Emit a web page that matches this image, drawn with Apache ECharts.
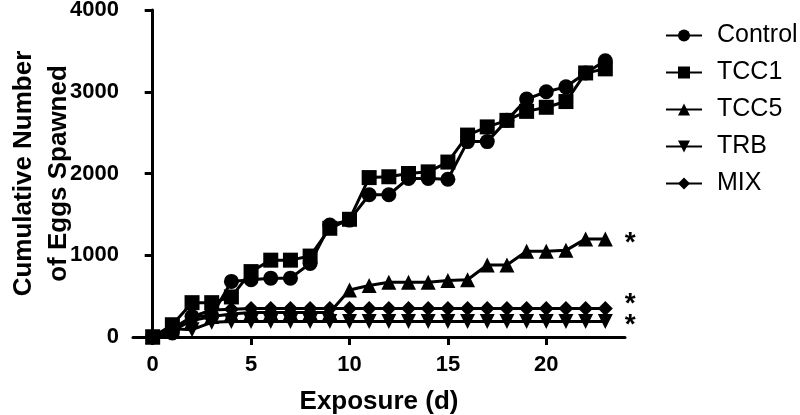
<!DOCTYPE html>
<html lang="en">
<head>
    <meta charset="UTF-8">
    <title>Eggs Spawned</title>
</head>
<body style="margin:0">
<script src="https://cdn.jsdelivr.net/npm/echarts@6/dist/echarts.min.js"></script>
<div id="main" style="width:800px;height:415px;"></div>

<script type="text/javascript">
    var days = [0, 1, 2, 3, 4, 5, 6, 7, 8, 9, 10, 11, 12, 13, 14, 15, 16, 17, 18, 19, 20, 21, 22, 23];
    var control = [0, 50, 250, 260, 680, 700, 720, 720, 900, 1370, 1430, 1740, 1740, 1940, 1940, 1930, 2390, 2390, 2650, 2910, 3000, 3060, 3230, 3380];
    var tcc1 = [0, 150, 420, 420, 490, 800, 940, 940, 990, 1330, 1440, 1950, 1960, 2000, 2020, 2140, 2470, 2570, 2650, 2760, 2810, 2880, 3230, 3280];
    var tcc5 = [0, 80, 200, 250, 280, 300, 300, 300, 300, 300, 575, 630, 670, 670, 670, 690, 700, 880, 880, 1050, 1050, 1060, 1200, 1200];
    var trb = [0, 100, 90, 180, 190, 190, 190, 190, 190, 190, 190, 190, 190, 190, 190, 190, 190, 190, 190, 190, 190, 190, 190, 190];
    var mix = [0, 100, 250, 330, 340, 350, 350, 350, 350, 350, 350, 350, 350, 350, 350, 350, 350, 350, 350, 350, 350, 350, 350, 350];
    var xTicks = [0, 5, 10, 15, 20];

    var font = "'Liberation Sans', Arial, sans-serif";
    var myChart = echarts.init(document.getElementById('main'));

    function pairs(vals) {
        return vals.map(function (v, i) { return [days[i], v]; });
    }

    function makeSeries(name, vals, symbol, star, starOffset) {
        var d = pairs(vals);
        if (star) {
            var last = d.length - 1;
            d[last] = {
                value: d[last],
                label: {
                    show: true,
                    position: 'right',
                    distance: 12,
                    offset: starOffset || [0, 0],
                    formatter: '*',
                    fontFamily: font,
                    fontWeight: 'bold',
                    fontSize: 28,
                    color: '#000'
                }
            };
        }
        return {
            name: name,
            type: 'line',
            data: d,
            symbol: symbol,
            symbolSize: 15,
            showAllSymbol: true,
            lineStyle: {color: '#000', width: 3},
            itemStyle: {color: '#000'},
            emphasis: {disabled: true},
            animation: false
        };
    }

    var downTri = 'path://M0,0 L10,0 L5,9 Z';

    option = {
        backgroundColor: '#fff',
        grid: {left: 133, right: 175, top: 10, bottom: 78, outerBoundsMode: 'none'},
        legend: {
            orient: 'vertical',
            left: 660,
            top: 18,
            itemWidth: 36,
            itemHeight: 15,
            itemGap: 12,
            textStyle: {fontFamily: font, fontSize: 25, color: '#000', padding: [0, 0, 0, 10]},
            data: ['Control', 'TCC1', 'TCC5', 'TRB', 'MIX']
        },
        xAxis: {
            type: 'value',
            min: -1,
            max: 24,
            name: 'Exposure (d)',
            nameLocation: 'middle',
            nameGap: 52,
            nameMoveOverlap: false,
            nameTextStyle: {fontFamily: font, fontWeight: 'bold', fontSize: 26, color: '#000'},
            axisLine: {onZero: true, lineStyle: {color: '#000', width: 3}},
            axisTick: {show: true, customValues: xTicks, length: 8, lineStyle: {color: '#000', width: 3}},
            axisLabel: {customValues: xTicks, fontFamily: font, fontWeight: 'bold', fontSize: 22, color: '#000', margin: 17},
            splitLine: {show: false}
        },
        yAxis: {
            type: 'value',
            min: 0,
            max: 4000,
            interval: 1000,
            name: 'Cumulative Number\nof Eggs Spawned',
            nameLocation: 'middle',
            nameGap: 57,
            nameMoveOverlap: false,
            nameTextStyle: {fontFamily: font, fontWeight: 'bold', fontSize: 26, color: '#000', lineHeight: 35},
            axisLine: {show: true, lineStyle: {color: '#000', width: 3}},
            axisTick: {show: true, length: 8, lineStyle: {color: '#000', width: 3}},
            axisLabel: {
                fontFamily: font, fontWeight: 'bold', fontSize: 22, color: '#000', margin: 14,
                formatter: function (v) { return String(v); }
            },
            splitLine: {show: false}
        },
        series: [
            makeSeries('Control', control, 'circle'),
            makeSeries('TCC1', tcc1, 'rect'),
            makeSeries('TCC5', tcc5, 'triangle', true, [0, 4]),
            makeSeries('TRB', trb, downTri, true, [0, 4]),
            makeSeries('MIX', mix, 'diamond', true, [0, -4])
        ]
    };
    myChart.setOption(option);
</script>
</body>
</html>
